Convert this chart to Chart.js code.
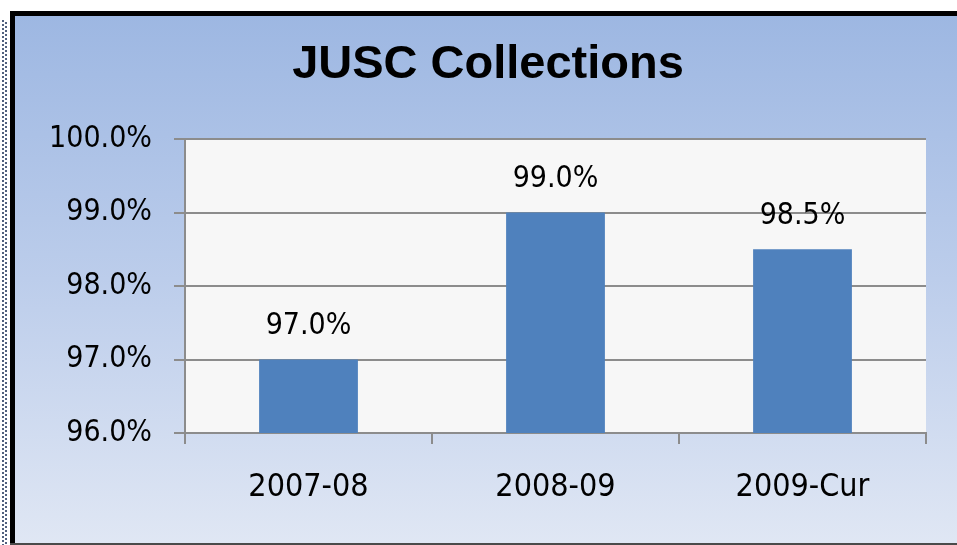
<!DOCTYPE html>
<html>
<head>
<meta charset="utf-8">
<script src="https://cdn.jsdelivr.net/npm/chart.js@4.4.1/dist/chart.umd.min.js"></script>
<style>
  html, body { margin: 0; padding: 0; background: #ffffff; }
  #wrap { position: relative; width: 957px; height: 545px; }
</style>
</head>
<body>
<div id="wrap"><canvas id="c" width="957" height="545"></canvas></div>
<script>
const categories = ["2007-08", "2008-09", "2009-Cur"];
const collectionRates = [97.0, 99.0, 98.5];
const yTickValues = [96, 97, 98, 99, 100];
const chartTitle = "JUSC Collections";

const condFont = "'DejaVu Sans Condensed', 'DejaVu Sans', sans-serif";

const framePlugin = {
  id: 'frame',
  afterLayout(chart) {
    // centre the title over the whole framed panel rather than the padded box
    if (chart.titleBlock) {
      chart.titleBlock.left = 19;
      chart.titleBlock.right = chart.width;
    }
  },
  beforeDraw(chart) {
    const ctx = chart.ctx;
    const W = chart.width, H = chart.height;
    ctx.save();
    ctx.fillStyle = '#ffffff';
    ctx.fillRect(0, 0, W, H);
    // dotted line at far left
    ctx.fillStyle = '#50607e';
    for (let y = 20; y < H; y += 4) {
      ctx.fillRect(2, y, 2, 2);
      ctx.fillRect(5, y + 2, 2, 2);
    }
    // gradient background
    const g = ctx.createLinearGradient(0, 14, 0, H);
    g.addColorStop(0, '#9db7e2');
    g.addColorStop(0.5, '#bccdeb');
    g.addColorStop(1, '#e0e7f4');
    ctx.fillStyle = g;
    ctx.fillRect(14, 14, W - 14, H - 14);
    // black frame left/top
    ctx.fillStyle = '#000000';
    ctx.fillRect(10, 11, 5, H - 11);
    ctx.fillRect(10, 11, W - 10, 5);
    // bottom dark line
    ctx.fillStyle = '#4a4a4a';
    ctx.fillRect(10, H - 2, W - 10, 2);
    // plot area
    const a = chart.chartArea;
    ctx.fillStyle = '#f7f7f7';
    ctx.fillRect(a.left, a.top, a.right - a.left, a.bottom - a.top);
    ctx.restore();
  }
};

const labelPlugin = {
  id: 'barLabels',
  afterDatasetsDraw(chart) {
    const ctx = chart.ctx;
    const meta = chart.getDatasetMeta(0);
    ctx.save();
    ctx.font = "30px " + condFont;
    ctx.fillStyle = '#000000';
    ctx.textAlign = 'center';
    ctx.textBaseline = 'middle';
    meta.data.forEach((bar, i) => {
      ctx.fillText(collectionRates[i].toFixed(1) + '%', bar.x, bar.y - 33);
    });
    ctx.restore();
  }
};

new Chart(document.getElementById('c'), {
  type: 'bar',
  data: {
    labels: categories,
    datasets: [{
      data: collectionRates,
      backgroundColor: '#4f81bd',
      borderWidth: 0,
      barPercentage: 0.4,
      categoryPercentage: 1.0
    }]
  },
  options: {
    responsive: false,
    animation: false,
    events: [],
    layout: { padding: { left: 0, right: 31, top: 16, bottom: 0 } },
    plugins: {
      legend: { display: false },
      tooltip: { enabled: false },
      title: {
        display: true,
        text: chartTitle,
        color: '#000000',
        font: { family: "'Liberation Sans', Arial, sans-serif", size: 47, weight: 'bold', lineHeight: 1.2 },
        padding: { top: 21, bottom: 45.6 }
      }
    },
    scales: {
      x: {
        afterFit(scale) { scale.height = 112; },
        grid: {
          display: true,
          drawOnChartArea: false,
          drawTicks: true,
          tickLength: 11,
          offset: true,
          color: '#8c8c8c',
          lineWidth: 2
        },
        border: { display: true, color: '#8c8c8c', width: 2 },
        ticks: {
          color: '#000000',
          font: { family: condFont, size: 32 },
          padding: 24,
          maxRotation: 0
        }
      },
      y: {
        min: 96,
        max: 100,
        afterFit(scale) { scale.width = 185; },
        afterBuildTicks(scale) { scale.ticks = yTickValues.map(v => ({ value: v })); },
        grid: {
          color: '#8c8c8c',
          lineWidth: 2,
          tickLength: 11,
          drawTicks: true
        },
        border: { display: true, color: '#8c8c8c', width: 2 },
        ticks: {
          color: '#000000',
          font: { family: condFont, size: 30 },
          padding: 22,
          callback: v => v.toFixed(1) + '%'
        }
      }
    }
  },
  plugins: [framePlugin, labelPlugin]
});
</script>
</body>
</html>
